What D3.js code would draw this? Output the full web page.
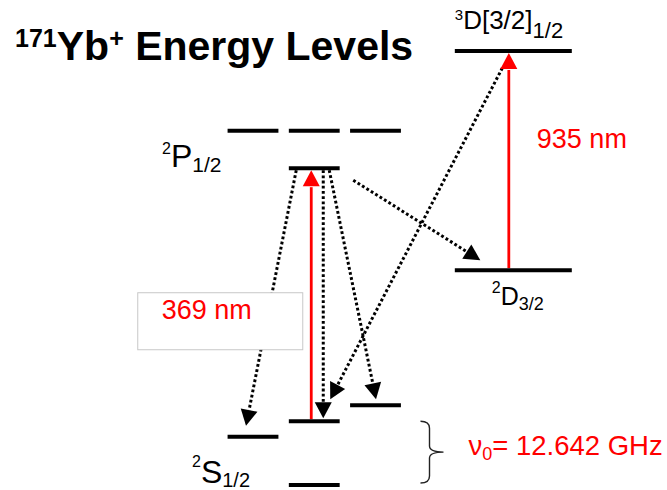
<!DOCTYPE html>
<html>
<head>
<meta charset="utf-8">
<script src="https://cdn.jsdelivr.net/npm/d3@7"></script>
<style>
  html, body { margin: 0; padding: 0; background: #fff; }
  svg { display: block; font-family: "Liberation Sans", Arial, sans-serif; }
</style>
</head>
<body>
<svg id="chart" width="667" height="490"></svg>
<script>
// Levels of the 171Yb+ ion used for Doppler cooling (schematic energy units)
const levelKeys   = ["S0", "S1m", "S1z", "S1p", "P0", "P1m", "P1z", "P1p", "D32", "D12"];
const levelEnergy = [0, 11.1, 14.7, 18.4, 73.0, 81.6, 81.6, 81.6, 49.5, 100];
const levelColumn = ["0", "-1", "0", "+1", "0", "-1", "0", "+1", "D", "D"];

// Term symbols: superscript, symbol, subscript, and the level each one names
const termSup   = ["2", "2", "2", "3"];
const termBase  = ["S", "P", "D", "D[3/2]"];
const termSub   = ["1/2", "1/2", "3/2", "1/2"];
const termLevel = ["S0", "P0", "D32", "D12"];

// Laser-driven transitions
const laserFrom  = ["S1z", "D32"];
const laserTo    = ["P0", "D12"];
const laserLabel = ["369 nm", "935 nm"];

// Spontaneous decay channels
const decayFrom = ["P0", "P0", "P0", "P0", "D12"];
const decayTo   = ["S1m", "S1z", "S1p", "D32", "S1z"];

// Ground-state hyperfine splitting
const hyperfineGHz = 12.642;

const titleParts = ["171", "Yb", "+", " Energy Levels"];

// ---------------------------------------------------------------------------
const svg = d3.select("#chart");
const RED = "#ff0000";

const x = d3.scaleLinear().domain([-1, 1]).range([253, 375.5]);
const y = d3.scaleLinear().domain([0, 100]).range([485, 51]);

const colCentre = { "-1": -1, "0": 0, "+1": 1, "D": 3.25 };
const colHalf   = { "-1": 0.415, "0": 0.415, "+1": 0.415, "D": 0.955 };

const lev = Object.fromEntries(levelKeys.map((k, i) => [k, { e: levelEnergy[i], col: levelColumn[i] }]));
const lx = k => x(colCentre[lev[k].col]);
const ly = k => y(lev[k].e);

// Arrow head as a filled triangle pointing at `tip`, coming from `from`
function headPts(from, tip, len, half) {
  const dx = tip[0] - from[0], dy = tip[1] - from[1];
  const d = Math.hypot(dx, dy), ux = dx / d, uy = dy / d;
  const bx = tip[0] - ux * len, by = tip[1] - uy * len;
  return { base: [bx, by], pts: [tip, [bx - uy * half, by + ux * half], [bx + uy * half, by - ux * half]] };
}

// Text built from pieces with their own size and baseline
function rich(parent, x0, parts, opts = {}) {
  const t = parent.append("text").attr("x", x0)
    .attr("fill", opts.fill || "#000")
    .attr("font-weight", opts.weight || "normal");
  parts.forEach(p => t.append("tspan").attr("y", p.y).attr("font-size", p.size).text(p.t));
  return t;
}

// --- decay channels (dotted) ---
// start / end offsets in px from each level's bar centre
const decayOffsets = [
  [-18, 2, -7, -11],
  [9, 2, 9, -3],
  [15, 2, 0.5, -6],
  [39, 12, -33, -10],
  [-11, 17, 16, -22]
];
const gDecay = svg.append("g");
decayFrom.forEach((f, i) => {
  const o = decayOffsets[i];
  const s = [lx(f) + o[0], ly(f) + o[1]];
  const tip = [lx(decayTo[i]) + o[2], ly(decayTo[i]) + o[3]];
  const h = headPts(s, tip, 16, 8.5);
  gDecay.append("line")
    .attr("x1", s[0]).attr("y1", s[1]).attr("x2", h.base[0]).attr("y2", h.base[1])
    .attr("stroke", "#000").attr("stroke-width", 3).attr("stroke-dasharray", "2.8,2.4");
  gDecay.append("path").attr("d", d3.line()(h.pts) + "Z").attr("fill", "#000");
});

// --- label box for the cooling laser ---
const laserX0 = lx(laserFrom[0]) - 3;
svg.append("rect")
  .attr("x", laserX0 - 173.5).attr("y", y(44.3)).attr("width", 165).attr("height", 57)
  .attr("fill", "#fff").attr("stroke", "#c8c8c8").attr("stroke-width", 1);

// --- laser transitions (red) ---
const laserDx = [-3, -4.5];
const laserText = [
  { dx: -149.5, y: y(38.2) },
  { dx: 28, y: y(77.6) }
];
laserFrom.forEach((f, i) => {
  const lxp = lx(f) + laserDx[i];
  const s = [lxp, ly(f) - 2];
  const tip = [lxp, ly(laserTo[i]) + 2];
  const h = headPts(s, tip, 16, 8.5);
  svg.append("line")
    .attr("x1", s[0]).attr("y1", s[1]).attr("x2", h.base[0]).attr("y2", h.base[1] + 1)
    .attr("stroke", RED).attr("stroke-width", 2.8);
  svg.append("path").attr("d", d3.line()(h.pts) + "Z").attr("fill", RED);
  svg.append("text")
    .attr("x", lxp + laserText[i].dx).attr("y", laserText[i].y)
    .attr("font-size", 27).attr("fill", RED)
    .text(laserLabel[i]);
});

// --- level bars ---
svg.append("g").selectAll("line").data(levelKeys).join("line")
  .attr("x1", k => x(colCentre[lev[k].col] - colHalf[lev[k].col]))
  .attr("x2", k => x(colCentre[lev[k].col] + colHalf[lev[k].col]))
  .attr("y1", k => ly(k)).attr("y2", k => ly(k))
  .attr("stroke", "#000").attr("stroke-width", 4);

// --- term labels ---
const termLayout = [
  { x: -61,   base: -2,  sz: [16, 32, 20], sup: -16.5, sub: 4 },
  { x: -91,   base: -1,  sz: [16, 32, 21], sup: -13.5, sub: 5 },
  { x: -21.5, base: 35,  sz: [16, 25, 18], sup: -12,   sub: 5 },
  { x: -58.5, base: -22, sz: [15, 26, 22], sup: -9,    sub: 9 }
];
termLevel.forEach((k, i) => {
  const L = termLayout[i];
  const b = ly(k) + L.base;
  const x0 = (lev[k].col === "D" ? lx(k) : x(-1)) + L.x;
  rich(svg, x0, [
    { t: termSup[i], size: L.sz[0], y: b + L.sup },
    { t: termBase[i], size: L.sz[1], y: b },
    { t: termSub[i], size: L.sz[2], y: b + L.sub }
  ]);
});

// --- hyperfine brace and splitting ---
const yTop = ly("S1z"), yBot = ly("S0") - 2, yMid = (yTop + yBot) / 2;
const bx = x(1) + 45;
svg.append("path")
  .attr("d", `M${bx},${yTop} Q${bx + 9},${yTop} ${bx + 9},${yTop + 7} L${bx + 9},${yMid - 6}
              Q${bx + 9},${yMid} ${bx + 23},${yMid} Q${bx + 9},${yMid} ${bx + 9},${yMid + 6}
              L${bx + 9},${yBot - 7} Q${bx + 9},${yBot} ${bx},${yBot}`)
  .attr("fill", "none").attr("stroke", "#222").attr("stroke-width", 1.4);

const nuBase = yMid + 3;
rich(svg, bx + 48, [
  { t: "ν", size: 27.5, y: nuBase },
  { t: "0", size: 18, y: nuBase + 5 },
  { t: "= " + d3.format(".3f")(hyperfineGHz) + " GHz", size: 27.5, y: nuBase }
], { fill: RED });

// --- title ---
rich(svg, 15, [
  { t: titleParts[0], size: 25, y: 47 },
  { t: titleParts[1], size: 41, y: 60 },
  { t: titleParts[2], size: 25, y: 47 },
  { t: titleParts[3], size: 41, y: 60 }
], { weight: "bold" }).attr("xml:space", "preserve").style("white-space", "pre");
</script>
</body>
</html>
